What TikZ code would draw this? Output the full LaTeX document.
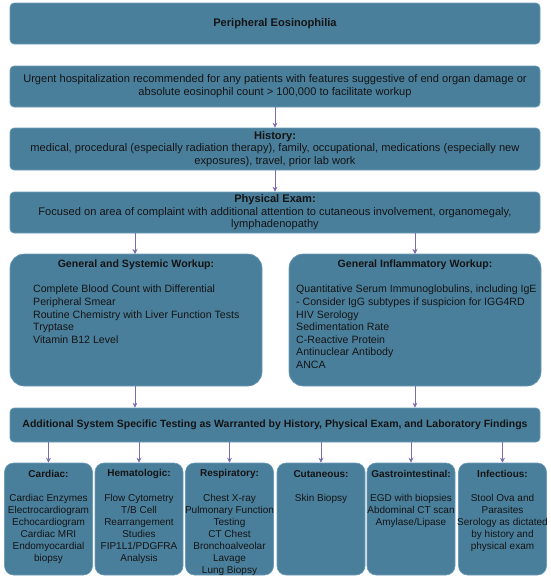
\documentclass[tikz,border=0pt]{standalone}
\usepackage{fontspec}
\setmainfont{Liberation Sans}
\usetikzlibrary{arrows.meta,calc}

\definecolor{boxfill}{HTML}{4A7F9C}
\definecolor{boxline}{HTML}{6D9CB7}
\definecolor{arrowc}{HTML}{7B6BAA}
\definecolor{textc}{HTML}{141414}

\tikzset{
  box/.style={draw=boxline, fill=boxfill, line width=0.6pt, rounded corners=4pt, inner sep=0pt, text=textc, align=center},
  bigbox/.style={box, rounded corners=14pt, minimum width=252pt, minimum height=132pt},
  testbox/.style={box, rounded corners=9pt, minimum width=88pt, minimum height=112pt},
  arr/.style={draw=arrowc, line width=0.7pt, -{Stealth[length=5pt,width=5pt]}},
  txt/.style={font=\fontsize{11.1}{13}\selectfont},
  mid/.style={font=\fontsize{10.6}{12.6}\selectfont, inner sep=0pt, text=textc},
  small/.style={font=\fontsize{10}{11.9}\selectfont, inner sep=0pt, text=textc, align=center}
}

\begin{document}
\begin{tikzpicture}[x=1pt,y=-1pt]
\useasboundingbox (0,0) rectangle (550,581);

% top boxes
\node[box, txt, minimum width=530pt, minimum height=41pt] (pe) at (275,23.5) {\textbf{Peripheral Eosinophilia}};
\node[box, txt, minimum width=530pt, minimum height=41pt] (urg) at (275,86.5)
  {Urgent hospitalization recommended for any patients with features suggestive of end organ damage or\\
   absolute eosinophil count > 100,000 to facilitate workup};
\node[box, txt, minimum width=530pt, minimum height=42pt, font=\fontsize{11.1}{12.7}\selectfont] (hist) at (275,149)
  {\textbf{History:}\\
   medical, procedural (especially radiation therapy), family, occupational, medications (especially new\\
   exposures), travel, prior lab work};
\node[box, txt, minimum width=530pt, minimum height=41pt, font=\fontsize{11.1}{12.5}\selectfont] (phys) at (275,212.5)
  {\textbf{Physical Exam:}\\
   Focused on area of complaint with additional attention to cutaneous involvement, organomegaly,\\
   lymphadenopathy};

% workup boxes
\node[bigbox] (gen) at (136,320) {};
\node[bigbox] (infl) at (415,320) {};
\node[mid, font=\bfseries\fontsize{10.6}{12.6}\selectfont] (gen-h) at (136,265) {General and Systemic Workup:};
\node[mid, align=left, anchor=north west] (gen-t) at (33,285)
  {Complete Blood Count with Differential\\
   Peripheral Smear\\
   Routine Chemistry with Liver Function Tests\\
   Tryptase\\
   Vitamin B12 Level};
\node[mid, font=\bfseries\fontsize{10.6}{12.6}\selectfont] (infl-h) at (415,265) {General Inflammatory Workup:};
\node[mid, align=left, anchor=north west] (infl-t) at (296,285)
  {Quantitative Serum Immunoglobulins, including IgE\\
   - Consider IgG subtypes if suspicion for IGG4RD\\
   HIV Serology\\
   Sedimentation Rate\\
   C-Reactive Protein\\
   Antinuclear Antibody\\
   ANCA};

\node[box, minimum width=530pt, minimum height=34pt, font=\bfseries\fontsize{10.5}{13}\selectfont] (add) at (275,425)
  {Additional System Specific Testing as Warranted by History, Physical Exam, and Laboratory Findings};

% system specific boxes
\foreach \name/\x/\head/\body in {
  card/48.5/Cardiac:/{Cardiac Enzymes\\Electrocardiogram\\Echocardiogram\\Cardiac MRI\\Endomyocardial\\biopsy},
  hema/139/Hematologic:/{Flow Cytometry\\T/B Cell\\Rearrangement\\Studies\\FIP1L1/PDGFRA\\Analysis},
  resp/229.5/Respiratory:/{Chest X-ray\\Pulmonary Function\\Testing\\CT Chest\\Bronchoalveolar\\Lavage\\Lung Biopsy},
  cuta/321/Cutaneous:/{Skin Biopsy},
  gast/411/Gastrointestinal:/{EGD with biopsies\\Abdominal CT scan\\Amylase/Lipase},
  infe/502.5/Infectious:/{Stool Ova and\\Parasites\\Serology as dictated\\by history and\\physical exam}}{
  \node[testbox] (\name) at (\x,519) {};
  \node[small, font=\bfseries\fontsize{10}{11.9}\selectfont] (\name-h) at (\x,474) {\head};
  \node[small, anchor=north] (\name-t) at (\x,494.5) {\body};
  \draw[arr] (add.south -| \name.north) -- (\name.north);
}

% arrows
\draw[arr] (urg.south) -- (hist.north);
\draw[arr] (hist.south) -- (phys.north);
\draw[arr] (phys.south -| 135,0) -- (135,254);
\draw[arr] (phys.south -| 415,0) -- (415,254);
\draw[arr] (135,386) -- (add.north -| 135,0);
\draw[arr] (415,386) -- (add.north -| 415,0);

\end{tikzpicture}
\end{document}
